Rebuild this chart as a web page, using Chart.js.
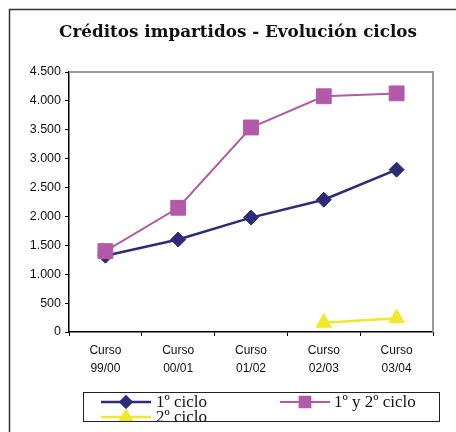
<!DOCTYPE html>
<html><head><meta charset="utf-8">
<script src="https://cdn.jsdelivr.net/npm/chart.js@4/dist/chart.umd.min.js"></script>
<style>html,body{margin:0;padding:0;background:#fff}canvas{display:block}</style>
</head><body>
<canvas id="c" width="456" height="432"></canvas>
<script>
const titleText = 'Créditos impartidos - Evolución ciclos';
const categories = [['Curso','99/00'],['Curso','00/01'],['Curso','01/02'],['Curso','02/03'],['Curso','03/04']];
const seriesNames = ['1º ciclo', '1º y 2º ciclo', '2º ciclo'];
const primerCiclo = [1320, 1600, 1980, 2290, 2810];
const primerSegundoCiclo = [1400, 2150, 3540, 4080, 4130];
const segundoCiclo = [null, null, null, 160, 240];
const yMin = 0, yMax = 4500, yStep = 500;

const NAVY = '#2f2b78', PINK = '#b25aa8', YELLOW = '#f0e82a';

function fmt(v){ return String(v).replace(/\B(?=(\d{3})+(?!\d))/g, '.'); }

const framePlugin = {
  id: 'frame',
  beforeDraw(chart){
    const ctx = chart.ctx;
    ctx.save();
    ctx.fillStyle = '#fff';
    ctx.fillRect(0,0,chart.width,chart.height);
    ctx.strokeStyle = '#333';
    ctx.lineWidth = 1.5;
    ctx.beginPath();
    ctx.moveTo(9.5, chart.height);
    ctx.lineTo(9.5, 9.5);
    ctx.lineTo(chart.width, 9.5);
    ctx.stroke();
    ctx.fillStyle = '#111';
    ctx.font = 'bold 16.8px "DejaVu Serif"';
    ctx.textAlign = 'center';
    ctx.textBaseline = 'middle';
    ctx.fillText(titleText, 238, 33);
    ctx.restore();
  },
  beforeDatasetsDraw(chart){
    const {ctx, chartArea:a} = chart;
    ctx.save();
    ctx.strokeStyle = '#9a9a9a';
    ctx.lineWidth = 2;
    ctx.beginPath();
    ctx.moveTo(a.left, a.top);
    ctx.lineTo(a.right, a.top);
    ctx.lineTo(a.right, a.bottom);
    ctx.stroke();
    ctx.restore();
  },
  afterDraw(chart){
    const ctx = chart.ctx;
    const box = {x: 83.5, y: 392.5, w: 356, h: 29};
    ctx.save();
    ctx.strokeStyle = '#222';
    ctx.lineWidth = 1;
    ctx.strokeRect(box.x, box.y, box.w, box.h);
    ctx.beginPath();
    ctx.rect(box.x+0.5, box.y+0.5, box.w-1, box.h-1);
    ctx.clip();
    const pos = [
      {x1: 101, x2: 151, y: 402, tx: 156},
      {x1: 280, x2: 330, y: 402, tx: 334},
      {x1: 101, x2: 151, y: 417, tx: 156}
    ];
    chart.data.datasets.forEach((ds, i) => {
      const p = pos[i];
      ctx.strokeStyle = ds.borderColor;
      ctx.lineWidth = ds.borderWidth;
      ctx.beginPath();
      ctx.moveTo(p.x1, p.y); ctx.lineTo(p.x2, p.y);
      ctx.stroke();
      ctx.fillStyle = ds.pointBackgroundColor;
      ctx.strokeStyle = ds.pointBackgroundColor;
      Chart.helpers.drawPoint(ctx, {pointStyle: ds.pointStyle, radius: ds.pointRadius * 0.72, rotation: 0, borderWidth: 1}, (p.x1+p.x2)/2, p.y);
      ctx.fillStyle = '#111';
      ctx.font = '17px "Liberation Serif"';
      ctx.textAlign = 'left';
      ctx.textBaseline = 'middle';
      ctx.fillText(ds.label, p.tx, p.y + 1);
    });
    ctx.restore();
  }
};

new Chart(document.getElementById('c'), {
  type: 'line',
  data: {
    labels: categories,
    datasets: [
      {label: seriesNames[0], data: primerCiclo, borderColor: NAVY, backgroundColor: NAVY,
       pointBackgroundColor: NAVY, pointBorderColor: NAVY, borderWidth: 2.5,
       pointStyle: 'rectRot', pointRadius: 7.5, pointBorderWidth: 1, order: 1},
      {label: seriesNames[1], data: primerSegundoCiclo, borderColor: PINK, backgroundColor: PINK,
       pointBackgroundColor: PINK, pointBorderColor: PINK, borderWidth: 2,
       pointStyle: 'rect', pointRadius: 10.5, pointBorderWidth: 1, order: 0},
      {label: seriesNames[2], data: segundoCiclo, borderColor: YELLOW, backgroundColor: YELLOW,
       pointBackgroundColor: YELLOW, pointBorderColor: YELLOW, borderWidth: 2.5,
       pointStyle: 'triangle', pointRadius: 9, pointBorderWidth: 1, order: 2}
    ]
  },
  options: {
    responsive: false,
    animation: false,
    events: [],
    layout: {padding: {top: 72, left: 0, right: 23, bottom: 40}, autoPadding: false},
    plugins: {legend: {display: false}, title: {display: false}, tooltip: {enabled: false}},
    elements: {line: {tension: 0}},
    scales: {
      x: {
        offset: true,
        grid: {offset: true, drawOnChartArea: false, drawTicks: true, tickLength: 4, color: '#000', lineWidth: 1},
        border: {color: '#000', width: 1.5},
        ticks: {color: '#111', font: {family: '"Liberation Sans"', size: 12, lineHeight: 1.5}, padding: 6, maxRotation: 0, autoSkip: false},
        afterFit(s){ s.height = 60; }
      },
      y: {
        min: yMin, max: yMax,
        grid: {drawOnChartArea: false, drawTicks: true, tickLength: 4, color: '#000', lineWidth: 1},
        border: {color: '#000', width: 1.5},
        ticks: {stepSize: yStep, color: '#111', font: {family: '"Liberation Sans"', size: 12.5}, padding: 4, callback: v => fmt(v)},
        afterFit(s){ s.width = 69; }
      }
    }
  },
  plugins: [framePlugin]
});
</script>
</body></html>
